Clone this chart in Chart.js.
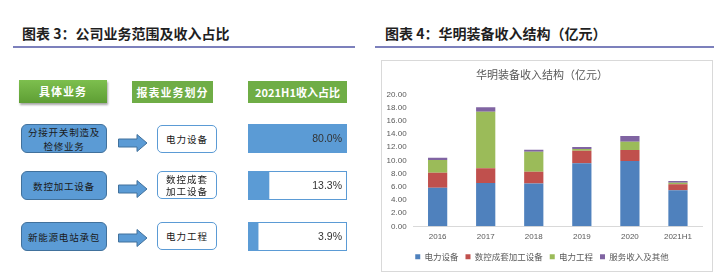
<!DOCTYPE html>
<html><head><meta charset="utf-8">
<script src="https://cdn.jsdelivr.net/npm/chart.js@4/dist/chart.umd.min.js"></script>
<style>
html,body{margin:0;padding:0;background:#fff;}
body{width:714px;height:273px;position:relative;overflow:hidden;font-family:"Noto Sans CJK SC","Noto Sans",sans-serif;}
.abs{position:absolute;}
.hdr{font-size:14px;font-weight:700;color:#1f1f1f;line-height:16px;white-space:nowrap;}
.rule{height:2px;background:#7C80BC;}
.green{color:#fff;font-weight:700;font-size:11px;text-align:center;line-height:22px;white-space:nowrap;}
.bluebox{background:#5B9BD5;border:1px solid #41719C;border-radius:6px;box-sizing:border-box;display:flex;align-items:center;justify-content:center;text-align:center;font-size:9.5px;line-height:14px;letter-spacing:0.8px;color:#1a1a1a;}
.whitebox{background:#fff;border:1px solid #5B9BD5;border-radius:5px;box-sizing:border-box;display:flex;align-items:center;justify-content:center;text-align:center;font-size:9.5px;line-height:12px;letter-spacing:1px;color:#1a1a1a;}
.databox{border:1px solid #5B9BD5;box-sizing:border-box;}
.pct{font-family:"Liberation Sans",Arial,sans-serif;font-size:10.5px;color:#333;text-align:right;white-space:nowrap;}
#panel{left:381px;top:60px;width:332px;height:212px;border:1px solid #D9D9D9;box-sizing:border-box;}
</style></head>
<body>
<div class="abs hdr" style="left:22px;top:25px;">图表 3：公司业务范围及收入占比</div>
<div class="abs rule" style="left:13px;top:46px;width:342px;"></div>
<div class="abs hdr" style="left:385px;top:25px;">图表 4：华明装备收入结构（亿元）</div>
<div class="abs rule" style="left:375px;top:46px;width:339px;"></div>

<div class="abs green" style="left:19px;top:80px;width:88px;height:23px;line-height:23px;background:linear-gradient(#7DBF4E,#5E9E34);box-shadow:1px 2px 2px rgba(0,0,0,0.35);letter-spacing:1px;">具体业务</div>
<div class="abs green" style="left:132px;top:81px;width:81px;height:22px;background:#6FAD46;letter-spacing:1px;">报表业务划分</div>
<div class="abs green" style="left:248px;top:81px;width:99px;height:22px;background:#6FAD46;">2021H1收入占比</div>

<div id="rows"></div>

<div id="panel" class="abs"><canvas id="c" width="330" height="210"></canvas></div>

<script>
// ---- Left diagram data ----
const businesses = ['分接开关制造及<br>检修业务', '数控加工设备', '新能源电站承包'];
const segments = ['电力设备', '数控成套<br>加工设备', '电力工程'];
const shares = [80.0, 13.3, 3.9];

// ---- Right chart data ----
const years = ['2016', '2017', '2018', '2019', '2020', '2021H1'];
const seriesNames = ['电力设备', '数控成套加工设备', '电力工程', '服务收入及其他'];
const powerEquip = [5.85, 6.56, 6.50, 9.55, 9.90, 5.45];
const cncEquip = [2.27, 2.23, 1.77, 1.90, 1.66, 0.91];
const powerEng = [1.93, 8.57, 3.03, 0.25, 1.26, 0.24];
const services = [0.35, 0.67, 0.30, 0.30, 0.86, 0.26];
const yTicks = [0, 2, 4, 6, 8, 10, 12, 14, 16, 18, 20];

// layout of the left rows
const rowTops = [124, 171, 222];
const arrowCenters = [143, 189, 237.5];
const rowsEl = document.getElementById('rows');
businesses.forEach((b, i) => {
  const top = rowTops[i];
  rowsEl.insertAdjacentHTML('beforeend',
    `<div class="abs bluebox" style="left:21px;top:${top}px;width:86px;height:29px;">${b}</div>` +
    `<svg class="abs" style="left:117px;top:${arrowCenters[i]-10}px" width="32" height="20"><polygon points="1.5,6 20,6 20,1.5 30,10 20,18.5 20,14 1.5,14" fill="#5B9BD5" stroke="#41719C" stroke-width="1"/></svg>` +
    `<div class="abs whitebox" style="left:157px;top:${top + (i===0?1:0)}px;width:60px;height:28px;">${segments[i]}</div>` +
    `<div class="abs databox" style="left:248px;top:${top}px;width:99px;height:29px;"><canvas id="d${i}" width="97" height="27" style="display:block"></canvas></div>` +
    `<div class="abs pct" style="left:248px;top:${top}px;width:94px;height:29px;line-height:29px;">${shares[i].toFixed(1)}%</div>`
  );
});

shares.forEach((v, i) => {
  new Chart(document.getElementById('d' + i), {
    type: 'bar',
    data: { labels: [''], datasets: [{ data: [v], base: -4, backgroundColor: '#5B9BD5', borderWidth: 0, barPercentage: 1, categoryPercentage: 1 }] },
    options: {
      indexAxis: 'y', responsive: false, animation: false,
      layout: { padding: 0 },
      plugins: { legend: { display: false }, tooltip: { enabled: false } },
      scales: {
        x: { display: false, min: -4, max: 80 },
        y: { display: false }
      }
    }
  });
});

const colors = ['#4F81BD', '#C0504D', '#9BBB59', '#8064A2'];
const values = [powerEquip, cncEquip, powerEng, services];
const tickFont = { family: '"Liberation Sans", Arial, sans-serif', size: 8 };
const cjk = '"Noto Sans CJK SC", sans-serif';

new Chart(document.getElementById('c'), {
  type: 'bar',
  data: {
    labels: years,
    datasets: seriesNames.map((n, i) => ({
      label: n, data: values[i], backgroundColor: colors[i], borderWidth: 0,
      barPercentage: 0.4, categoryPercentage: 1
    }))
  },
  options: {
    responsive: false, animation: false,
    layout: { padding: { left: 0, right: 10, top: 0, bottom: 0 } },
    plugins: {
      title: { display: true, text: '华明装备收入结构（亿元）', color: '#595959',
        font: { family: cjk, size: 11, weight: 'normal' }, padding: { top: 7.4, bottom: 12.7 } },
      legend: { position: 'bottom',
        labels: { boxWidth: 5, boxHeight: 5, padding: 7, color: '#595959', font: { family: cjk, size: 8.5 } } },
      tooltip: { enabled: false }
    },
    scales: {
      x: { stacked: true, grid: { display: false, drawTicks: false },
        border: { display: true, color: '#D9D9D9' },
        ticks: { color: '#595959', font: tickFont, padding: 6, maxRotation: 0 },
        afterFit: s => { s.height = 19.2; } },
      y: { stacked: true, min: 0, max: 20,
        afterBuildTicks: s => { s.ticks = yTicks.map(v => ({ value: v })); },
        grid: { display: false, drawTicks: false }, border: { display: false },
        ticks: { color: '#595959', font: tickFont, padding: 7, callback: v => Number(v).toFixed(2) },
        afterFit: s => { s.width = 31.6; } }
    }
  }
});
</script>
</body></html>
